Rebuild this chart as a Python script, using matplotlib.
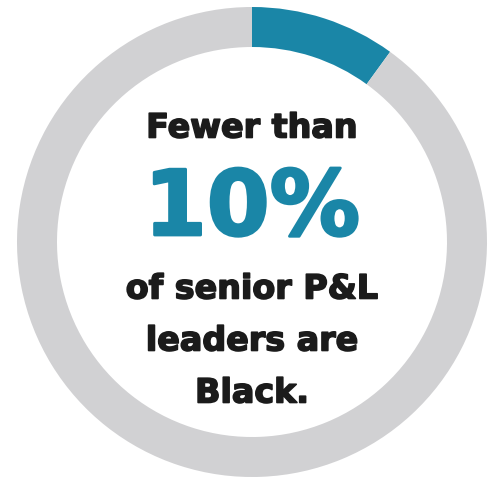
import matplotlib.pyplot as plt
import matplotlib.patheffects as pe

# share of senior P&L leaders
labels = ["Black", "Other"]
values = [10, 90]
colors = ["#1a86a7", "#d1d1d3"]

headline = "Fewer than"
big_number = "10%"
tail_lines = ["of senior P&L", "leaders are", "Black."]

W, H = 489, 481
fig = plt.figure(figsize=(W / 100, H / 100), dpi=100)
ax = fig.add_axes([0, 0, 1, 1])

# ring centre / radius measured in pixels
cx, cy, r = 252, 243, 235

ax.pie(values, colors=colors, startangle=90, counterclock=False, radius=1,
       wedgeprops=dict(width=40 / r, linewidth=0))

# pie() resets the limits, so set them afterwards
ax.set_aspect("auto")
ax.set_xlim(-cx / r, (W - cx) / r)
ax.set_ylim(-(H - cy) / r, cy / r)
ax.axis("off")


def ypos(py):
    return (cy - py) / r


dark = "#1b1b1b"
# thin outline in the same colour makes the type look heavier, like the original
heavy_dark = [pe.withStroke(linewidth=1.2, foreground=dark)]
heavy_blue = [pe.withStroke(linewidth=2, foreground=colors[0])]

ax.text(0, ypos(129), headline, ha="center", va="center", fontsize=24,
        fontweight="heavy", color=dark, family="DejaVu Sans",
        path_effects=heavy_dark)
ax.text(0, ypos(211), big_number, ha="center", va="center", fontsize=65,
        fontweight="heavy", color=colors[0], family="DejaVu Sans",
        path_effects=heavy_blue)
for py, line in zip([290, 342, 394], tail_lines):
    ax.text(0, ypos(py), line, ha="center", va="center", fontsize=24,
            fontweight="heavy", color=dark, family="DejaVu Sans",
            path_effects=heavy_dark)

plt.savefig("out.png", dpi=100)
